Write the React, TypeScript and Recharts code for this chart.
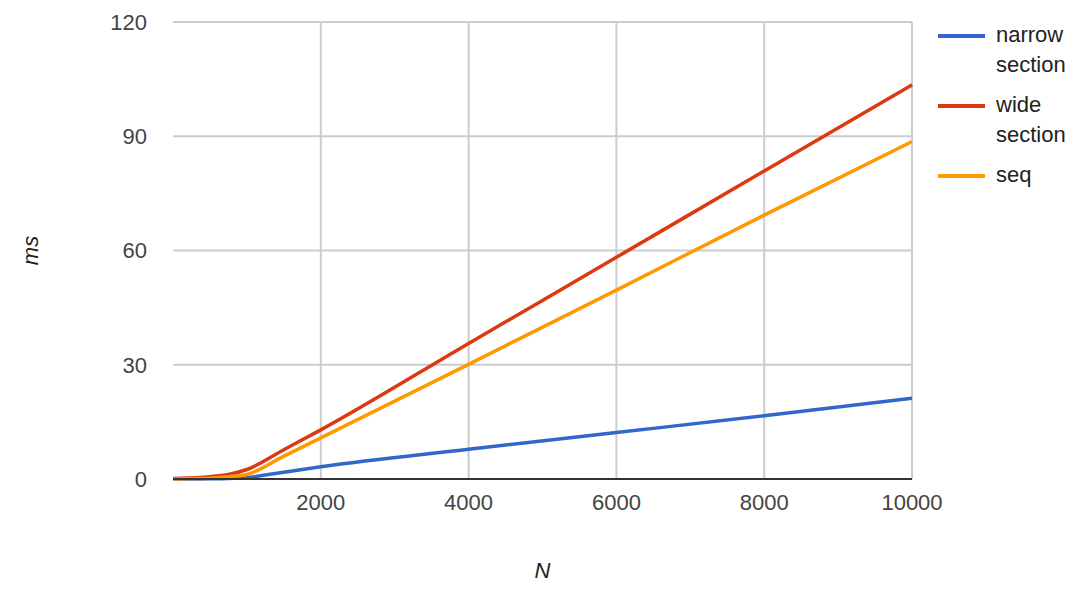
import { LineChart, Line, XAxis, YAxis, CartesianGrid, Legend } from "recharts";

// sample sizes and timings (ms)
const N_VALUES = [0, 250, 500, 750, 1000, 1500, 2000, 4000, 6000, 8000, 10000];
const NARROW = [0, 0, 0.05, 0.15, 0.4, 1.8, 3.2, 7.8, 12.2, 16.6, 21.2];
const WIDE = [0.1, 0.3, 0.6, 1.2, 2.5, 7.7, 12.9, 35.6, 58.2, 80.9, 103.5];
const SEQ = [0, 0.1, 0.2, 0.6, 1.2, 6.0, 10.8, 30.1, 49.6, 69.3, 88.6];

const X_TICKS = [2000, 4000, 6000, 8000, 10000];
const Y_TICKS = [0, 30, 60, 90, 120];

const SERIES = [
  { key: "narrow", label: ["narrow", "section"], color: "#3366cc" },
  { key: "wide", label: ["wide", "section"], color: "#dc3912" },
  { key: "seq", label: ["seq"], color: "#ff9900" },
];

const FONT = "Arial, 'Liberation Sans', sans-serif";

const data = N_VALUES.map((n, i) => ({
  n,
  narrow: NARROW[i],
  wide: WIDE[i],
  seq: SEQ[i],
}));

function LegendBox() {
  return (
    <div style={{ fontFamily: FONT, fontSize: 22, color: "#222" }}>
      {SERIES.map((s) => (
        <div key={s.key} style={{ display: "flex", alignItems: "flex-start", marginBottom: 10 }}>
          <div
            style={{
              width: 47,
              height: 4,
              background: s.color,
              marginTop: 14,
              marginRight: 11,
            }}
          />
          <div style={{ lineHeight: "30px" }}>
            {s.label.map((l) => (
              <div key={l}>{l}</div>
            ))}
          </div>
        </div>
      ))}
    </div>
  );
}

// only the tick positions, no border on the left edge of the plot
const verticalLines = (props: any) => {
  const sc = props.xAxis?.scale;
  if (typeof sc === "function") return X_TICKS.map((t) => sc(t));
  const { left, width } = props.offset;
  return X_TICKS.map((t) => left + (t / 10000) * width);
};

export default function App() {
  return (
    <div style={{ position: "absolute", left: 0, top: 0, background: "#fff" }}>
      <LineChart
        width={1086}
        height={600}
        data={data}
        margin={{ top: 22, right: 26, bottom: 0, left: 0 }}
      >
        <CartesianGrid
          stroke="#cccccc"
          strokeWidth={2}
          verticalCoordinatesGenerator={verticalLines}
        />
        <XAxis
          dataKey="n"
          type="number"
          domain={[0, 10000]}
          ticks={X_TICKS}
          height={121}
          tickLine={false}
          tickSize={0}
          tickMargin={15}
          axisLine={{ stroke: "#333", strokeWidth: 2 }}
          tick={{ fill: "#444", fontSize: 22, fontFamily: FONT }}
          label={{
            content: (p: any) => (
              <text
                x={p.viewBox.x + p.viewBox.width / 2}
                y={p.viewBox.y + 91}
                textAnchor="middle"
                dominantBaseline="central"
                fontStyle="italic"
                fontFamily={FONT}
                fontSize={22}
                fill="#222"
              >
                N
              </text>
            ),
          }}
        />
        <YAxis
          type="number"
          domain={[0, 120]}
          ticks={Y_TICKS}
          width={173}
          tickLine={false}
          tickSize={0}
          tickMargin={26}
          axisLine={false}
          tick={{ fill: "#444", fontSize: 22, fontFamily: FONT }}
          label={{
            content: (p: any) => (
              <text
                x={30}
                y={p.viewBox.y + p.viewBox.height / 2}
                textAnchor="middle"
                dominantBaseline="central"
                transform={`rotate(-90 30 ${p.viewBox.y + p.viewBox.height / 2})`}
                fontStyle="italic"
                fontFamily={FONT}
                fontSize={22}
                fill="#222"
              >
                ms
              </text>
            ),
          }}
        />
        <Legend
          layout="vertical"
          verticalAlign="top"
          align="right"
          content={() => <LegendBox />}
          wrapperStyle={{ left: 938, top: 20, width: 148 }}
        />
        {SERIES.map((s) => (
          <Line
            key={s.key}
            type="monotone"
            dataKey={s.key}
            stroke={s.color}
            strokeWidth={3.5}
            dot={false}
            isAnimationActive={false}
          />
        ))}
      </LineChart>
    </div>
  );
}
